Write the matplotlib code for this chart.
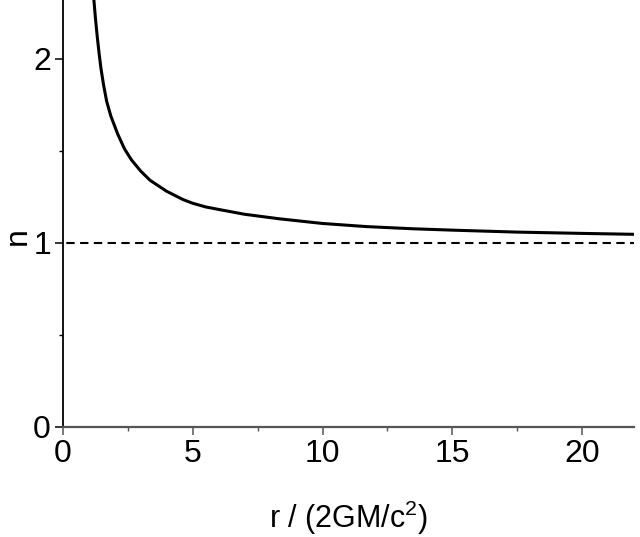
"""Refractive index n versus r / (2GM/c^2), with the n = 1 reference line."""

import matplotlib
matplotlib.use("Agg")
import matplotlib.pyplot as plt
from matplotlib.ticker import MultipleLocator

# ---------------------------------------------------------------------------
# Data
# ---------------------------------------------------------------------------
R_VALUES = [1.18, 1.20, 1.26, 1.33, 1.40, 1.47, 1.57, 1.69, 1.85, 2.12, 2.38,
            2.65, 3.00, 3.36, 4.00, 4.63, 5.00, 5.50, 6.05, 7.00, 8.36, 10.0,
            11.69, 13.5, 15.15, 17.5, 20.0, 22.0]
N_VALUES = [2.36, 2.32, 2.22, 2.12, 2.03, 1.95, 1.86, 1.77, 1.69, 1.59, 1.51,
            1.45, 1.39, 1.34, 1.28, 1.235, 1.215, 1.195, 1.18, 1.155, 1.13, 1.105,
            1.088, 1.076, 1.068, 1.058, 1.051, 1.046]
REFERENCE_N = 1.0

X_LIMITS = (0, 22)
Y_LIMITS = (0, 2.32)

FONT = "Liberation Sans"
AXIS_GREY = "#555555"

# ---------------------------------------------------------------------------
# Figure
# ---------------------------------------------------------------------------
plt.rcParams["font.family"] = [FONT, "DejaVu Sans"]
plt.rcParams["mathtext.fontset"] = "custom"
plt.rcParams["mathtext.rm"] = FONT
plt.rcParams["mathtext.it"] = FONT

fig = plt.figure(figsize=(6.4, 5.37), dpi=100)
ax = fig.add_axes([0.098, 0.2054, 0.893, 0.7946])

ax.plot(R_VALUES, N_VALUES, color="black", linewidth=2.2, solid_capstyle="butt")
ax.axhline(REFERENCE_N, color="black", linewidth=1.5, linestyle=(5, (4, 2.6)))

ax.set_xlim(*X_LIMITS)
ax.set_ylim(*Y_LIMITS)

ax.xaxis.set_major_locator(MultipleLocator(5))
ax.xaxis.set_minor_locator(MultipleLocator(2.5))
ax.yaxis.set_major_locator(MultipleLocator(1))
ax.yaxis.set_minor_locator(MultipleLocator(0.5))

for side in ("top", "right"):
    ax.spines[side].set_visible(False)
ax.spines["left"].set_color("black")
ax.spines["left"].set_linewidth(1.3)
ax.spines["bottom"].set_color(AXIS_GREY)
ax.spines["bottom"].set_linewidth(1.6)

ax.tick_params(axis="both", which="major", direction="out", length=5.5,
               width=1.1, labelsize=23, pad=3)
ax.tick_params(axis="both", which="minor", direction="out", length=3,
               width=1.0)
ax.tick_params(axis="x", which="both", color=AXIS_GREY)

ax.set_xlabel(r"r / (2GM/c$^{2}$)", fontsize=22, va="baseline", ha="center")
ax.set_ylabel("n", fontsize=23, va="center", ha="center")
ax.xaxis.set_label_coords(0.500, -0.237)
ax.yaxis.set_label_coords(-0.079, 0.447)

fig.savefig("out.png", dpi=100, facecolor="white")
plt.close(fig)
